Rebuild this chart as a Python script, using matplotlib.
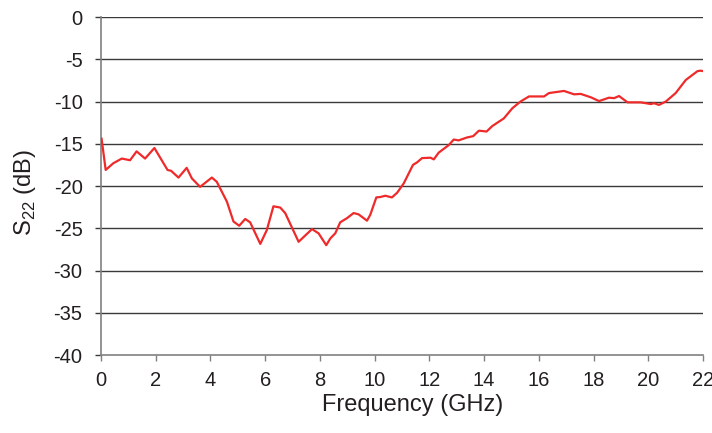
import matplotlib.pyplot as plt

plt.rcParams['font.family'] = ['Liberation Sans', 'DejaVu Sans']
plt.rcParams['axes.unicode_minus'] = False
plt.rcParams['mathtext.fontset'] = 'custom'
plt.rcParams['mathtext.rm'] = 'Liberation Sans'

# S22 trace (GHz, dB)
freq = [0.02, 0.17, 0.45, 0.76, 1.06, 1.30, 1.61, 1.95, 2.43, 2.56, 2.83, 3.13,
        3.32, 3.62, 4.05, 4.23, 4.60, 4.84, 5.05, 5.27, 5.45, 5.82, 6.06, 6.30,
        6.55, 6.73, 7.22, 7.71, 7.95, 8.23, 8.38, 8.56, 8.74, 8.99, 9.23, 9.41,
        9.72, 9.84, 10.06, 10.21, 10.39, 10.63, 10.82, 11.06, 11.40, 11.55,
        11.73, 12.04, 12.16, 12.34, 12.71, 12.89, 13.07, 13.38, 13.60, 13.81,
        14.09, 14.30, 14.72, 15.03, 15.33, 15.64, 16.19, 16.37, 16.92, 17.29,
        17.53, 17.90, 18.20, 18.56, 18.75, 18.93, 19.24, 19.72, 19.91, 20.09,
        20.21, 20.39, 20.64, 21.00, 21.37, 21.80, 21.92, 22.00]
s22 = [-14.4, -18.1, -17.3, -16.75, -16.95, -15.9, -16.75, -15.5, -18.1, -18.2,
       -19.0, -17.85, -19.1, -20.1, -19.0, -19.5, -21.85, -24.2, -24.7, -23.9,
       -24.3, -26.85, -25.2, -22.4, -22.55, -23.2, -26.6, -25.1, -25.6, -27.0,
       -26.2, -25.6, -24.3, -23.8, -23.2, -23.35, -24.1, -23.4, -21.35, -21.3,
       -21.15, -21.35, -20.8, -19.7, -17.5, -17.2, -16.7, -16.65, -16.85, -16.05,
       -15.15, -14.5, -14.6, -14.25, -14.1, -13.45, -13.55, -12.9, -12.0, -10.8,
       -10.0, -9.4, -9.4, -9.0, -8.75, -9.15, -9.1, -9.5, -9.95, -9.55, -9.6,
       -9.35, -10.1, -10.1, -10.2, -10.3, -10.2, -10.4, -10.0, -9.0, -7.45,
       -6.4, -6.35, -6.4]

x_ticks = list(range(0, 23, 2))
y_ticks = list(range(-40, 1, 5))

fig = plt.figure(figsize=(7.12, 4.33), dpi=100)
ax = fig.add_axes([0.1419, 0.1801, 0.8455, 0.7806])

for y in y_ticks[1:]:
    ax.axhline(y, color='#3a3a3a', lw=1.0, zorder=1)
ax.plot(freq, s22, color='#ee2a2a', lw=1.6, zorder=3,
        solid_joinstyle='round')

ax.set_xlim(0, 22)
ax.set_ylim(-40, 0)
ax.set_xticks(x_ticks)
ax.set_yticks(y_ticks)
ax.tick_params(axis='both', labelsize=14.5, colors='#231f20')
ax.tick_params(axis='y', length=4.3, width=1.0, color='#3a3a3a', pad=9)
ax.tick_params(axis='x', length=4.3, width=1.0, color='#808080', pad=7)

for side in ['top', 'right']:
    ax.spines[side].set_visible(False)
ax.spines['left'].set_color('#808080')
ax.spines['left'].set_linewidth(1.2)
ax.spines['bottom'].set_color('#808080')
ax.spines['bottom'].set_linewidth(1.2)

ax.set_xlabel('Frequency (GHz)', fontsize=17, color='#231f20')
ax.xaxis.set_label_coords(0.518, -0.115)
ax.set_ylabel(r'S$_{\mathregular{22}}$ (dB)', fontsize=17, color='#231f20')
ax.yaxis.set_label_coords(-0.105, 0.48)

fig.savefig('out.png', dpi=100)
